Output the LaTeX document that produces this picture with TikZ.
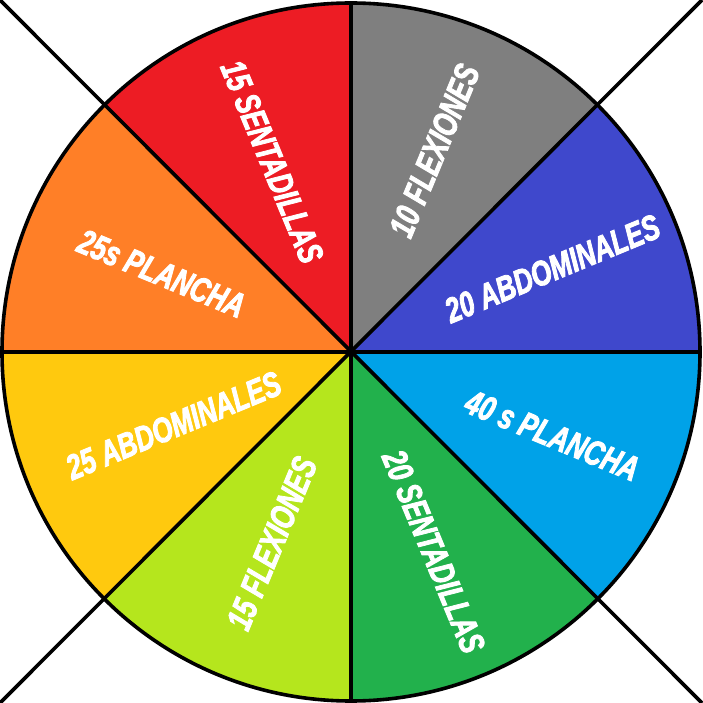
\documentclass[tikz,border=0pt]{standalone}
\usepackage{fontspec}
\newfontfamily\impact{Liberation Sans Bold Italic}[FakeStretch=0.74,FakeBold=2.4]
\definecolor{cRed}{HTML}{ED1C24}
\definecolor{cGray}{HTML}{7F7F7F}
\definecolor{cBlue}{HTML}{3F48CC}
\definecolor{cSky}{HTML}{00A2E8}
\definecolor{cGreen}{HTML}{22B14C}
\definecolor{cLime}{HTML}{B5E61D}
\definecolor{cYellow}{HTML}{FFC90E}
\definecolor{cOrange}{HTML}{FF7F27}
\begin{document}
\begin{tikzpicture}[x=1pt,y=1pt,
  lbl/.style={text=white,font=\impact\fontsize{35}{35}\selectfont,inner sep=0pt},
  rim/.style={draw=black,line width=3.6pt}]
\useasboundingbox (-351,-351) rectangle (351,352);
\coordinate (c) at (0,0);
\foreach \a/\col in {0/cBlue,45/cGray,90/cRed,135/cOrange,180/cYellow,225/cLime,270/cGreen,315/cSky}
  \fill[\col] (c) -- (\a:349) arc[start angle=\a,end angle=\a+45,radius=349] -- cycle;
\coordinate (tl) at (-351,352);
\coordinate (tr) at (351,352);
\coordinate (bl) at (-351,-351);
\coordinate (br) at (351,-351);
\coordinate (n) at (90:349);
\coordinate (s) at (270:349);
\coordinate (e) at (0:349);
\coordinate (w) at (180:349);
\draw[rim] (tl) -- (br);
\draw[rim] (tr) -- (bl);
\draw[rim] (n) -- (s);
\draw[rim] (w) -- (e);
\draw[rim] (c) circle[radius=349];
\node[lbl,rotate=-67.5] (t1) at (112.5:206) {15 SENTADILLAS};
\node[lbl,rotate=67.5] (t2) at (67.5:218) {10 FLEXIONES};
\node[lbl,rotate=22.5] (t3) at (22.5:218) {20 ABDOMINALES};
\node[lbl,rotate=-22.5] (t4) at (-22.5:218) {40 s PLANCHA};
\node[lbl,rotate=-67.5] (t5) at (-67.5:216) {20 SENTADILLAS};
\node[lbl,rotate=67.5] (t6) at (-112.5:207) {15 FLEXIONES};
\node[lbl,rotate=22.5] (t7) at (-157.5:192) {25 ABDOMINALES};
\node[lbl,rotate=-22.5] (t8) at (157.5:205) {25s PLANCHA};
\end{tikzpicture}
\end{document}
